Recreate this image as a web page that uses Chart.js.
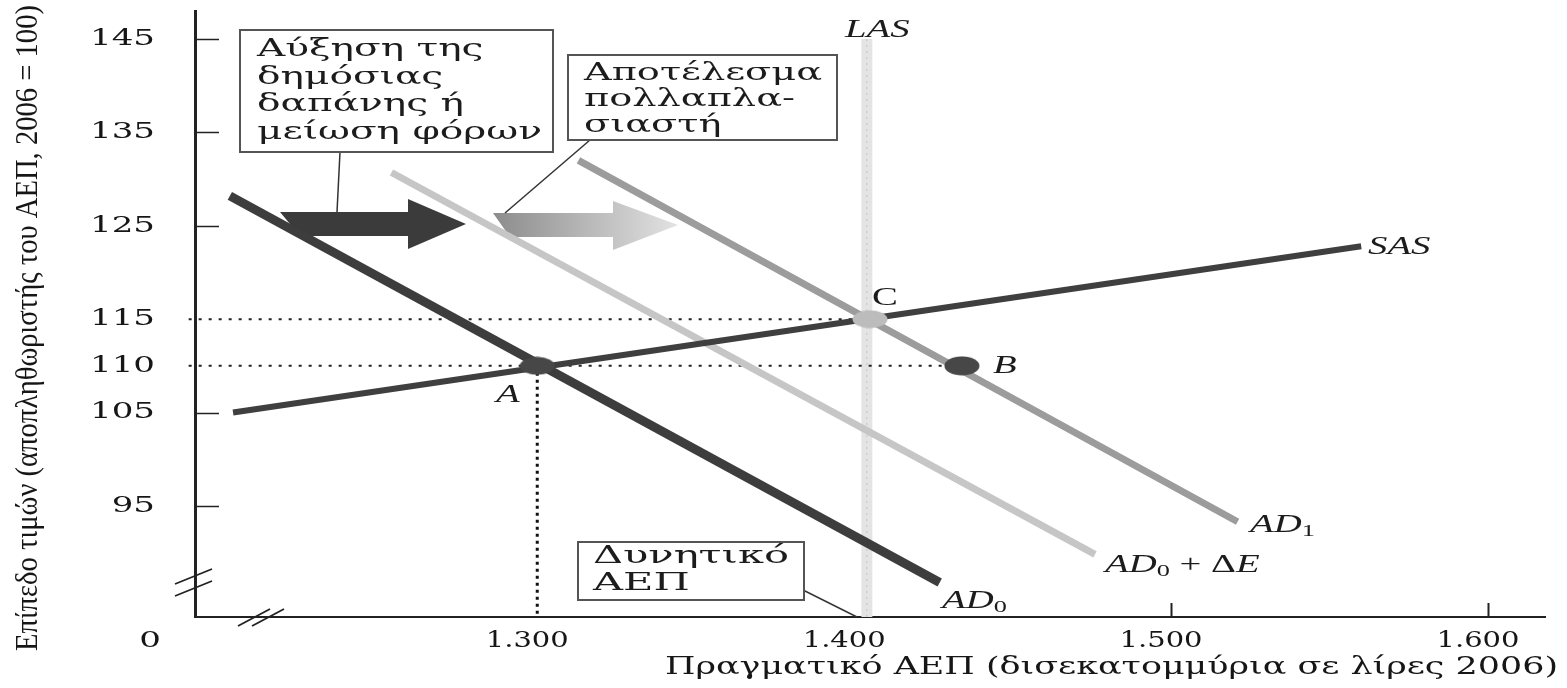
<!DOCTYPE html>
<html>
<head>
<meta charset="utf-8">
<script src="https://cdn.jsdelivr.net/npm/chart.js@4.4.1/dist/chart.umd.min.js"></script>
<style>
  html, body { margin: 0; padding: 0; background: #fff; }
  canvas { display: block; }
</style>
</head>
<body>
<canvas id="canvasShift" width="1567" height="688"></canvas>
<script>
"use strict";

// axis ticks
var gdpTicks = [1300, 1400, 1500, 1600];
var gdpTickLabels = ['1.300', '1.400', '1.500', '1.600'];
var priceTicks = [145, 135, 125, 115, 110, 105, 95];
var priceTickMarks = [145, 135, 125, 105, 95];
var gdpTickMarks = [1500, 1600];

// curves (real GDP, price level)
var adZeroGdp = [1203, 1427];
var adZeroPrice = [128.2, 86.8];
var adShiftGdp = [1254, 1476];
var adShiftPrice = [130.7, 89.8];
var adOneGdp = [1313, 1521];
var adOnePrice = [132.0, 93.3];
var sasGdp = [1204, 1560];
var sasPrice = [105.0, 122.8];
var lasGdp = [1404, 1404];
var lasPrice = [83.1, 145];

// equilibrium points
var pointNames = ['A', 'C', 'B'];
var pointGdp = [1300, 1405, 1434];
var pointPrice = [110, 115, 110];

var xMin = 1192, xMax = 1618, yMin = 83.1, yMax = 148;

function toPoints(xs, ys) {
    var out = [];
    for (var i = 0; i < xs.length; i++) out.push({ x: xs[i], y: ys[i] });
    return out;
}

function ellipseMarker(color, w, h) {
    var c = document.createElement('canvas');
    c.width = w; c.height = h;
    var g = c.getContext('2d');
    g.fillStyle = color;
    g.beginPath();
    g.ellipse(w / 2, h / 2, w / 2 - 0.5, h / 2 - 0.5, 0, 0, Math.PI * 2);
    g.fill();
    return c;
}

function stretchText(ctx, text, x, y, font, sx, align) {
    ctx.save();
    ctx.font = font;
    ctx.textBaseline = 'middle';
    ctx.textAlign = 'left';
    var w = ctx.measureText(text).width * sx;
    var left = x;
    if (align === 'right') left = x - w;
    else if (align === 'center') left = x - w / 2;
    ctx.translate(left, y);
    ctx.scale(sx, 1);
    ctx.fillText(text, 0, 0);
    ctx.restore();
    return w;
}

function fitScale(ctx, text, font, width) {
    ctx.save();
    ctx.font = font;
    var w = ctx.measureText(text).width;
    ctx.restore();
    return width / w;
}

function mathLabel(ctx, parts, x, y, size, sx) {
    var cx = x;
    parts.forEach(function (p) {
        var font = p.it ? 'italic ' + size + 'px "Liberation Serif"' : size + 'px "Liberation Serif"';
        var yy = y;
        if (p.sub) { font = Math.round(size * 0.68) + 'px "Liberation Serif"'; yy = y + size * 0.28; }
        cx += stretchText(ctx, p.t, cx, yy, font, sx, 'left');
    });
}

function textBox(ctx, box, lines, lineGap, size) {
    ctx.save();
    ctx.fillStyle = '#fff';
    ctx.fillRect(box.x, box.y, box.w, box.h);
    ctx.strokeStyle = '#555';
    ctx.lineWidth = 2;
    ctx.strokeRect(box.x, box.y, box.w, box.h);
    ctx.fillStyle = '#1c1c1c';
    var font = size + 'px "DejaVu Serif"';
    var sx = fitScale(ctx, box.widest, font, box.textWidth);
    lines.forEach(function (t, i) {
        stretchText(ctx, t, box.x + box.pad, box.firstY + i * lineGap, font, sx, 'left');
    });
    ctx.restore();
}

function arrow(ctx, a, fill) {
    ctx.save();
    ctx.fillStyle = fill;
    ctx.beginPath();
    ctx.moveTo(a.x0, a.top);
    ctx.lineTo(a.neck, a.top);
    ctx.lineTo(a.neck, a.headTop);
    ctx.lineTo(a.tip, a.mid);
    ctx.lineTo(a.neck, a.headBottom);
    ctx.lineTo(a.neck, a.bottom);
    ctx.lineTo(a.x1, a.bottom);
    ctx.closePath();
    ctx.fill();
    ctx.restore();
}

function line(ctx, x0, y0, x1, y1, w, color) {
    ctx.save();
    ctx.strokeStyle = color;
    ctx.lineWidth = w;
    ctx.beginPath();
    ctx.moveTo(x0, y0);
    ctx.lineTo(x1, y1);
    ctx.stroke();
    ctx.restore();
}

var shiftDecor = {
    id: 'shiftDecor',
    beforeDatasetsDraw: function (chart) {
        var ctx = chart.ctx;
        arrow(ctx, { x0: 280, x1: 300, top: 212, bottom: 236, neck: 408, headTop: 199, headBottom: 249, tip: 466, mid: 224 }, '#3b3b3b');
        var grad = ctx.createLinearGradient(493, 0, 677, 0);
        grad.addColorStop(0, '#8c8c8c');
        grad.addColorStop(1, '#e2e2e2');
        arrow(ctx, { x0: 493, x1: 510, top: 213, bottom: 237, neck: 613, headTop: 201, headBottom: 250, tip: 678, mid: 225 }, grad);
    },
    afterDraw: function (chart) {
        var ctx = chart.ctx;
        var xs = chart.scales.x, ys = chart.scales.y;
        var area = chart.chartArea;

        // inward tick marks
        priceTickMarks.forEach(function (v) {
            var py = Math.round(ys.getPixelForValue(v)) + 0.5;
            line(ctx, area.left, py, area.left + 24, py, 1.5, '#222');
        });
        gdpTickMarks.forEach(function (v) {
            var px = Math.round(xs.getPixelForValue(v)) + 0.5;
            line(ctx, px, area.bottom, px, area.bottom - 14, 2, '#222');
        });

        // axis breaks
        line(ctx, 175, 584, 212, 569, 1.8, '#222');
        line(ctx, 175, 596, 212, 581, 1.8, '#222');
        line(ctx, 238, 626, 270, 609, 1.8, '#222');
        line(ctx, 252, 626, 284, 609, 1.8, '#222');

        ctx.fillStyle = '#161616';
        // tick labels
        var tickFont = '23px "DejaVu Serif"';
        var tsx = fitScale(ctx, '145', tickFont, 65);
        priceTicks.forEach(function (v) {
            stretchText(ctx, String(v), 155, ys.getPixelForValue(v), tickFont, tsx, 'right');
        });
        gdpTicks.forEach(function (v, i) {
            stretchText(ctx, gdpTickLabels[i], xs.getPixelForValue(v) - 10, 641, tickFont, tsx * 0.85, 'center');
        });
        stretchText(ctx, '0', 150, 641, tickFont, tsx, 'center');

        // axis titles
        var xTitle = 'Πραγματικό ΑΕΠ (δισεκατομμύρια σε λίρες 2006)';
        var xFont = '24px "DejaVu Serif"';
        stretchText(ctx, xTitle, 665, 668, xFont, fitScale(ctx, xTitle, xFont, 893), 'left');

        var yTitle = 'Επίπεδο τιμών (αποπληθωριστής του ΑΕΠ, 2006 = 100)';
        var yFont = '31px "Liberation Serif"';
        ctx.save();
        ctx.translate(29, 328);
        ctx.rotate(-Math.PI / 2);
        stretchText(ctx, yTitle, 0, 0, yFont, fitScale(ctx, yTitle, yFont, 646), 'center');
        ctx.restore();

        // leader lines
        line(ctx, 340, 152, 337, 212, 1.5, '#333');
        line(ctx, 590, 140, 505, 213, 1.5, '#333');
        line(ctx, 803, 590, 857, 617, 1.5, '#333');

        // annotation boxes
        textBox(ctx, { x: 240, y: 30, w: 313, h: 122, pad: 17, firstY: 50, widest: 'μείωση φόρων', textWidth: 285 },
            ['Αύξηση της', 'δημόσιας', 'δαπάνης ή', 'μείωση φόρων'], 27.5, 24);
        textBox(ctx, { x: 568, y: 55, w: 269, h: 85, pad: 16, firstY: 74, widest: 'Αποτέλεσμα', textWidth: 238 },
            ['Αποτέλεσμα', 'πολλαπλα-', 'σιαστή'], 26, 24);
        textBox(ctx, { x: 578, y: 542, w: 226, h: 58, pad: 15, firstY: 557, widest: 'Δυνητικό', textWidth: 196 },
            ['Δυνητικό', 'ΑΕΠ'], 27, 24);

        // curve labels
        ctx.fillStyle = '#1c1c1c';
        var s = 1.55;
        mathLabel(ctx, [{ t: 'LAS', it: 1 }], 845, 30, 25, s);
        mathLabel(ctx, [{ t: 'SAS', it: 1 }], 1368, 247, 25, s);
        mathLabel(ctx, [{ t: 'AD', it: 1 }, { t: '1', sub: 1 }], 1250, 525, 25, s);
        mathLabel(ctx, [{ t: 'AD', it: 1 }, { t: '0', sub: 1 }, { t: ' + Δ' }, { t: 'E', it: 1 }], 1105, 565, 25, s);
        mathLabel(ctx, [{ t: 'AD', it: 1 }, { t: '0', sub: 1 }], 942, 601, 25, s);

        // point labels
        var lab = { A: [496, 395, 1], B: [993, 366, 1], C: [872, 298, 0] };
        pointNames.forEach(function (n) {
            var p = lab[n];
            mathLabel(ctx, [{ t: n, it: p[2] }], p[0], p[1], 25, s);
        });
    }
};

var markers = [ellipseMarker('#474747', 36, 19), ellipseMarker('#bcbcbc', 36, 19), ellipseMarker('#474747', 36, 20)];

var guideH115 = toPoints([xMin - 2, pointGdp[1]], [pointPrice[1], pointPrice[1]]);
var guideH110 = toPoints([xMin - 2, pointGdp[2]], [pointPrice[2], pointPrice[2]]);
var guideV = toPoints([pointGdp[0], pointGdp[0]], [pointPrice[0], yMin]);

function curve(data, color, width, extra) {
    var ds = {
        data: data,
        borderColor: color,
        borderWidth: width,
        pointRadius: 0,
        fill: false,
        tension: 0,
        clip: false,
        borderCapStyle: 'butt'
    };
    for (var k in extra) ds[k] = extra[k];
    return ds;
}

var context = document.getElementById('canvasShift');
var shiftChart = new Chart(context, {
    type: 'line',
    data: {
        datasets: [
            {
                label: 'points',
                data: toPoints(pointGdp, pointPrice),
                showLine: false,
                pointStyle: markers,
                pointRadius: 10,
                clip: false
            },
            curve(toPoints(sasGdp, sasPrice), '#3f3f3f', 6, { label: 'SAS' }),
            curve(toPoints(adZeroGdp, adZeroPrice), '#3d3d3d', 9, { label: 'AD0' }),
            curve(toPoints(adOneGdp, adOnePrice), '#9c9c9c', 7, { label: 'AD1' }),
            curve(toPoints(adShiftGdp, adShiftPrice), '#c6c6c6', 7, { label: 'AD0 + ΔE' }),
            curve(guideH115, '#222', 2, { label: 'p115', borderDash: [3, 7] }),
            curve(guideH110, '#222', 2, { label: 'p110', borderDash: [3, 7] }),
            curve(guideV, '#111', 3, { label: 'y1300', borderDash: [3, 4] }),
            curve(toPoints(lasGdp, lasPrice), '#c4c4c4', 1, { label: 'LAS line', borderDash: [2, 4] }),
            curve(toPoints(lasGdp, lasPrice), '#e4e4e4', 11, { label: 'LAS' })
        ]
    },
    options: {
        responsive: false,
        animation: false,
        devicePixelRatio: 1,
        layout: { padding: { left: 195, right: 22, top: 10, bottom: 71 } },
        plugins: { legend: { display: false }, tooltip: { enabled: false } },
        scales: {
            x: {
                type: 'linear',
                min: xMin,
                max: xMax,
                grid: { display: false, drawTicks: false },
                ticks: { display: false },
                border: { display: true, width: 2, color: '#222' }
            },
            y: {
                type: 'linear',
                min: yMin,
                max: yMax,
                grid: { display: false, drawTicks: false },
                ticks: { display: false },
                border: { display: true, width: 3, color: '#222' }
            }
        }
    },
    plugins: [shiftDecor]
});
</script>
</body>
</html>
